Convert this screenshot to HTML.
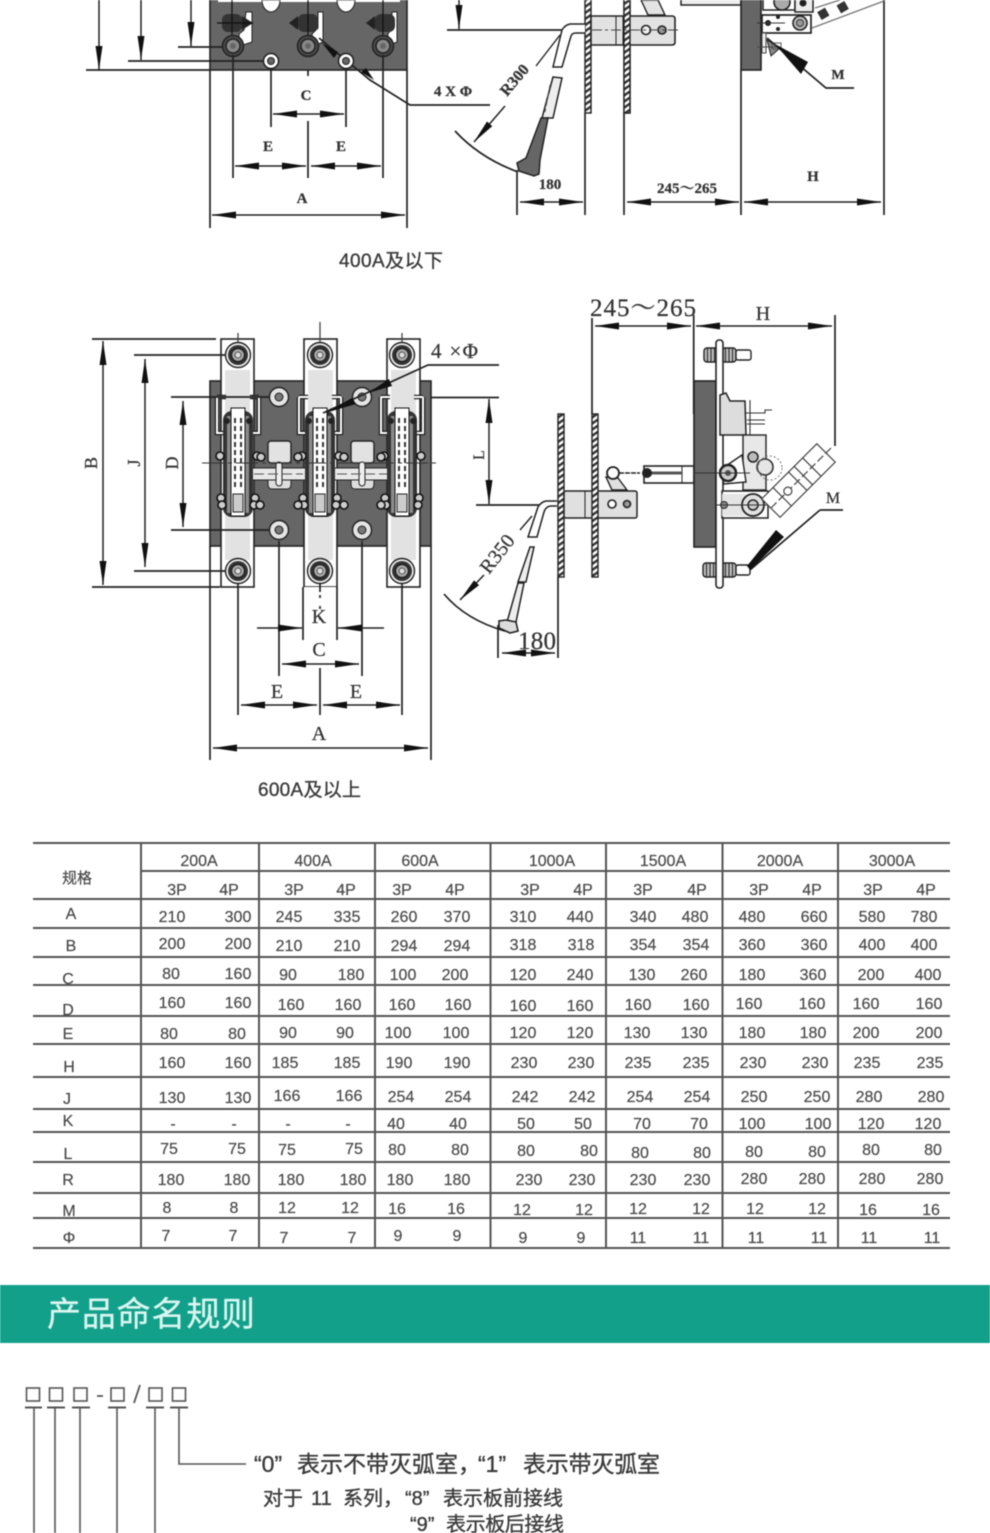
<!DOCTYPE html>
<html lang="zh"><head><meta charset="utf-8"><title>400A 600A</title>
<style>
html,body{margin:0;padding:0;background:#fff;width:990px;height:1533px;overflow:hidden}
svg{display:block;filter:blur(.55px)}
.s{font-family:"Liberation Serif","Noto Serif CJK SC",serif;fill:#333;stroke:#333;stroke-width:.25}
.t{font-family:"Liberation Sans","Noto Sans CJK SC",sans-serif;fill:#4a4a4a;stroke:#4a4a4a;stroke-width:.2;font-size:16px;text-anchor:middle}
.h{font-family:"Liberation Sans","Noto Sans CJK SC",sans-serif;fill:#4a4a4a;stroke:#4a4a4a;stroke-width:.2;font-size:16px;text-anchor:middle}
.z{font-family:"Liberation Sans","Noto Sans CJK SC",sans-serif;fill:#3a3a3a;stroke:#3a3a3a;stroke-width:.35}
.d{stroke:#222;stroke-width:1.7;fill:none}
.a{stroke:#222;stroke-width:1.5;fill:none;marker-start:url(#ar);marker-end:url(#ar)}
.e{stroke:#222;stroke-width:1.5;fill:none;marker-end:url(#ar)}
.g{stroke:#555;stroke-width:2;fill:none}
.tv{stroke:#555;stroke-width:2;fill:none}
</style></head><body>
<svg width="990" height="1533" viewBox="0 0 990 1533" xmlns="http://www.w3.org/2000/svg">
<defs>
<marker id="ar" viewBox="0 0 24 8" refX="24" refY="4" markerWidth="24" markerHeight="8" markerUnits="userSpaceOnUse" orient="auto-start-reverse"><path d="M0,.5 L24,4 L0,7.5 Z" fill="#111"/></marker>
<pattern id="hat" width="5" height="5" patternUnits="userSpaceOnUse" patternTransform="rotate(-35)"><rect width="5" height="5" fill="#fff"/><rect width="5" height="2.4" fill="#333"/></pattern>
<g id="hole1"><circle r="7.5" fill="#fff" stroke="#222" stroke-width="1.5"/><circle r="3.5" fill="#666" stroke="#222"/></g>
<g id="hex"><circle r="10.5" fill="#4a4a4a" stroke="#222" stroke-width="1.5"/><circle r="7" fill="#888" stroke="#222" stroke-width="1.5"/><circle r="3" fill="#666"/></g>
<g id="bolt2"><circle r="12.5" fill="#eee" stroke="#222" stroke-width="1.4"/><circle r="10" fill="#333"/><circle r="6.5" fill="#aaa" stroke="#222" stroke-width="1.4"/><circle r="3" fill="#ddd" stroke="#333" stroke-width=".8"/></g>
<g id="hole2"><circle r="9.5" fill="#e4e4e4" stroke="#222" stroke-width="1.4"/><circle r="4" fill="#777" stroke="#222"/></g>
<g id="sm"><circle r="4" fill="#ccc" stroke="#111" stroke-width="1.6"/></g>
<g id="ct">
<path d="M-21,397V433H-12M21,397V433H12M-21,397H-12M21,397H12" stroke="#222" stroke-width="4.5" fill="none"/>
<path d="M-21,397V433H-12M21,397V433H12M-21,397H-12M21,397H12" stroke="#fff" stroke-width="2" fill="none"/>
<rect x="-15" y="411" width="30" height="106" rx="9" fill="#333"/>
<rect x="-11" y="416" width="22" height="97" fill="#8a8a8a"/>
<rect x="-7" y="408" width="14" height="108" fill="#fff" stroke="#111"/>
<path d="M-3,418V490M3,418V490" stroke="#333" stroke-width="2" stroke-dasharray="5 3"/>
<rect x="-5" y="494" width="10" height="18" fill="#ccc" stroke="#222"/>
<circle cx="-11" cy="421" r="3" fill="#222"/><circle cx="11" cy="421" r="3" fill="#222"/>
<use href="#sm" x="-18" y="456"/><use href="#sm" x="19" y="456"/>
<use href="#sm" x="-17" y="498"/><use href="#sm" x="17" y="498"/>
<use href="#sm" x="-16" y="505"/><use href="#sm" x="16" y="505"/>
</g>
<g id="rod"><rect x="-3" y="0" width="6" height="163" fill="url(#hat)" stroke="#222" stroke-width="1.4"/></g>
<g id="rib"><rect x="0" y="-7" width="14" height="14" rx="3" fill="#bbb" stroke="#222" stroke-width="1.4"/><path d="M3.500,-7V7M7,-7V7M10.500,-7V7" stroke="#222"/></g>
</defs>

<rect width="990" height="1533" fill="#fff"/>

<!-- ===== top-left drawing ===== -->
<rect x="210" y="-4" width="197" height="74" fill="#666" stroke="#222" stroke-width="1.6"/>
<path d="M218,0H262M280,0H337M355,0H400" stroke="#fff" stroke-width="4"/>
<path d="M262,0a9,12 0 0 0 18,0zM337,0a9,12 0 0 0 18,0z" fill="#fff" stroke="#222"/>
<g><path d="M239,34L244,30L246,12H252V42L240,46Z" fill="#fff" stroke="#222"/><rect x="222" y="14" width="20" height="18" rx="6" fill="#333"/><path d="M242,16L253,23L242,30Z" fill="#222"/><path d="M217,23H253M232,0V36" stroke="#111" stroke-width="1.2"/></g>
<g><path d="M312,34L318,28V12H323V42L314,46Z" fill="#fff" stroke="#222"/><rect x="298" y="14" width="20" height="18" rx="6" fill="#333"/><path d="M298,16L289,23L298,30Z" fill="#222"/><path d="M308,0V36" stroke="#111" stroke-width="1.2"/></g>
<g><path d="M388,34L392,28V12H397V42L388,46Z" fill="#fff" stroke="#222"/><rect x="375" y="14" width="20" height="18" rx="6" fill="#333"/><path d="M375,16L366,23L375,30Z" fill="#222"/><path d="M383,0V36" stroke="#111" stroke-width="1.2"/></g>
<use href="#hex" x="233" y="46"/><use href="#hex" x="308" y="46"/><use href="#hex" x="383" y="46"/>
<path d="M319,38L370,80L410,105H490" class="d"/>
<path d="M322,43L338,52L334,58Z" fill="#111"/><path d="M366,68L374,80L361,72Z" fill="#111"/>
<use href="#hole1" x="271" y="61"/><use href="#hole1" x="346" y="61"/>
<path d="M86,70H210M128,61H264M178,47H223" class="d"/>
<path d="M99,0V70" class="e"/><path d="M141,0V60" class="e"/><path d="M191,0V46" class="e"/>
<path d="M210,70V228M407,70V228M233,55V178M383,55V178M271,69V127M346,69V127M308,121V178M308,70V76" class="d"/>
<path d="M273,114H344" class="a"/><path d="M235,166H306" class="a"/><path d="M311,166H381" class="a"/><path d="M212,215H405" class="a"/>
<text x="306" y="100" class="s" font-size="15" font-weight="bold" text-anchor="middle">C</text>
<text x="268" y="151" class="s" font-size="15" font-weight="bold" text-anchor="middle">E</text>
<text x="341" y="151" class="s" font-size="15" font-weight="bold" text-anchor="middle">E</text>
<text x="302" y="203" class="s" font-size="15" font-weight="bold" text-anchor="middle">A</text>
<text x="453" y="96" class="s" font-size="15" font-weight="bold" text-anchor="middle">4 X Φ</text>
<text x="339" y="267" class="z" font-size="19" textLength="104">400A及以下</text>

<!-- top right drawing -->
<rect x="585" y="-4" width="6" height="117" fill="url(#hat)" stroke="#222" stroke-width="1.4"/>
<rect x="624" y="-4" width="6" height="117" fill="url(#hat)" stroke="#222" stroke-width="1.4"/>
<path d="M641,0L648,15H665L658,0Z" fill="#e3e3e3" stroke="#222" stroke-width="1.4"/>
<path d="M591,16H672q3,0 3,3V42q0,3 -3,3H591Z" fill="#e2e2e2" stroke="#222" stroke-width="1.6"/>
<path d="M616,16V45M623,16V45" stroke="#222"/>
<rect x="624" y="-4" width="6" height="117" fill="url(#hat)" stroke="#222" stroke-width="1.4"/>
<circle cx="646" cy="30" r="4.5" fill="#eee" stroke="#222" stroke-width="1.6"/><circle cx="662" cy="30" r="4" fill="#999" stroke="#222" stroke-width="1.6"/>
<path d="M592,30H680" stroke="#444" stroke-dasharray="10 3 3 3"/>
<path d="M447,30H563" class="d"/><path d="M459,0V29" class="e"/>
<path d="M585,24H570Q565,25 562,30L553,67H562L571,36Q572,33 576,33H585" fill="#fff" stroke="#222" stroke-width="1.5"/>
<path d="M553,77L562,78L553,118H542Z" fill="#eee" stroke="#222" stroke-width="1.5"/>
<path d="M550,85L545,112" stroke="#555" stroke-dasharray="5 3"/>
<path d="M541,118H548L540,160L539,174L534,176L519,171L517,163L526,158Z" fill="#666" stroke="#222" stroke-width="1.5"/>
<path d="M455,131Q480,158 518,172" stroke="#222" stroke-width="1.7" fill="none"/>
<path d="M505,106L474,142" class="e" stroke-width="1.5"/><path d="M536,66L560,35" stroke="#222" stroke-width="1.4"/>
<text transform="translate(507,97) rotate(-50)" class="s" font-size="16" font-weight="bold">R300</text>
<path d="M517,170V215M585,113V215M624,113V215M741,70V215M884,0V215" class="d"/>
<path d="M520,202H583" class="a"/><path d="M627,202H739" class="a"/><path d="M744,202H881" class="a"/>
<text x="550" y="189" class="s" font-size="15" font-weight="bold" text-anchor="middle">180</text>
<text x="687" y="193" class="s" font-size="15" font-weight="bold" text-anchor="middle">245～265</text>
<text x="813" y="181" class="s" font-size="15" font-weight="bold" text-anchor="middle">H</text>
<rect x="681" y="-3" width="60" height="8" fill="#eee" stroke="#222" stroke-width="1.5"/>
<rect x="741" y="-4" width="20" height="74" fill="#666" stroke="#222" stroke-width="1.6"/>
<path d="M812,28L884,1M815,8L840,0" stroke="#777" stroke-width="1.3"/>
<rect x="819" y="9" width="9" height="9" transform="rotate(-30 824 14)" fill="#333"/><rect x="838" y="3" width="9" height="9" transform="rotate(-30 842 7)" fill="#333"/>
<rect x="763" y="-3" width="32" height="13" fill="#fff" stroke="#222" stroke-width="1.5"/><circle cx="782" cy="2" r="8" fill="#aaa" stroke="#222" stroke-width="1.6"/>
<rect x="795" y="-3" width="18" height="15" fill="#eee" stroke="#222" stroke-width="1.5"/><circle cx="803" cy="3" r="3.5" fill="#222"/>
<rect x="762" y="15" width="49" height="18" fill="#fff" stroke="#222" stroke-width="1.7"/>
<circle cx="800" cy="23" r="7" fill="#bbb" stroke="#222" stroke-width="1.6"/><circle cx="800" cy="23" r="3.5" fill="#999" stroke="#333"/>
<circle cx="778" cy="17" r="2" fill="#222"/><circle cx="778" cy="29" r="2" fill="#222"/><circle cx="768" cy="23" r="3" fill="#222"/>
<path d="M757,23H785" stroke="#333"/>
<rect x="762" y="33" width="4" height="20" fill="#eee" stroke="#444"/>
<path d="M767,40L771,56L780,48Z" fill="#888" stroke="#222"/><rect x="772" y="43" width="9" height="6" fill="none" stroke="#555"/>
<path d="M757,47H780" stroke="#444"/>
<path d="M767,38L826,88H854" class="d"/><path d="M775,44L808,62L801,74Z" fill="#111"/>
<text x="838" y="79" class="s" font-size="14" font-weight="bold" text-anchor="middle">M</text>

<!-- ===== middle-left drawing ===== -->
<rect x="210" y="381" width="221" height="165" fill="#666" stroke="#222" stroke-width="1.6"/>
<rect x="221" y="339" width="33" height="248" fill="#fff" stroke="#222" stroke-width="1.6"/>
<rect x="304" y="339" width="33" height="248" fill="#fff" stroke="#222" stroke-width="1.6"/>
<rect x="387" y="339" width="33" height="248" fill="#fff" stroke="#222" stroke-width="1.6"/>
<rect x="225" y="370" width="25" height="190" fill="#e2e2e2"/><rect x="308" y="370" width="25" height="190" fill="#e2e2e2"/><rect x="391" y="370" width="25" height="190" fill="#e2e2e2"/>
<rect x="304" y="587" width="33" height="44" fill="#fff"/>
<path d="M320,595V628" stroke="#444" stroke-width="2" stroke-dasharray="3 8"/>
<rect x="268" y="441" width="23" height="22" rx="3" fill="#e2e2e2" stroke="#222" stroke-width="1.4"/>
<rect x="351" y="441" width="23" height="22" rx="3" fill="#e2e2e2" stroke="#222" stroke-width="1.4"/>
<path d="M268,480V484Q268,489 272,489H287Q291,489 291,484V480M351,480V484Q351,489 355,489H370Q374,489 374,484V480" fill="#ddd" stroke="#222"/>
<rect x="250" y="468" width="56" height="12" fill="#e8e8e8" stroke="#222"/><rect x="334" y="468" width="56" height="12" fill="#e8e8e8" stroke="#222"/>
<rect x="276" y="462" width="6" height="24" rx="3" fill="#eee" stroke="#222"/><rect x="359" y="462" width="6" height="24" rx="3" fill="#eee" stroke="#222"/>
<path d="M254,474H303M337,474H387" stroke="#555" stroke-dasharray="10 4"/>
<use href="#ct" x="238"/><use href="#ct" x="320"/><use href="#ct" x="402"/>
<use href="#sm" x="261" y="457"/><use href="#sm" x="298" y="457"/><use href="#sm" x="344" y="457"/><use href="#sm" x="381" y="457"/>
<use href="#sm" x="260" y="505"/><use href="#sm" x="298" y="505"/><use href="#sm" x="381" y="505"/><use href="#sm" x="344" y="505"/>
<path d="M202,463H440" stroke="#333" stroke-width="1.1" stroke-dasharray="22 4 4 4"/>
<path d="M238,333V349M320,322V345M402,333V349" stroke="#444" stroke-width="1.3"/>
<use href="#bolt2" x="238" y="355"/><use href="#bolt2" x="320" y="355"/><use href="#bolt2" x="402" y="355"/>
<use href="#bolt2" x="238" y="571"/><use href="#bolt2" x="320" y="571"/><use href="#bolt2" x="402" y="571"/>
<use href="#hole2" x="279" y="397"/><use href="#hole2" x="362" y="397"/><use href="#hole2" x="279" y="530"/><use href="#hole2" x="362" y="530"/>
<path d="M92,339H216M92,587H220M134,355H226M134,571H226M171,397H270M171,530H270" class="d"/>
<path d="M103,341V585" class="a"/><path d="M145,359V567" class="a"/><path d="M183,401V527" class="a"/>
<text transform="translate(97,463) rotate(-90)" class="s" font-size="18" text-anchor="middle">B</text>
<text transform="translate(140,463) rotate(-90)" class="s" font-size="18" text-anchor="middle">J</text>
<text transform="translate(178,463) rotate(-90)" class="s" font-size="18" text-anchor="middle">D</text>
<path d="M210,546V760M431,546V760M279,541V676M362,541V676M238,584V715M402,584V715M320,584V592M320,668V715M303,587V640M337,587V640" class="d"/>
<path d="M282,664H359" class="a"/><path d="M241,705H317" class="a"/><path d="M323,705H400" class="a"/><path d="M213,748H428" class="a"/>
<path d="M257,628H302" class="e"/><path d="M384,628H338" class="e"/>
<text x="319" y="623" class="s" font-size="20" text-anchor="middle">K</text>
<text x="319" y="656" class="s" font-size="20" text-anchor="middle">C</text>
<text x="277" y="698" class="s" font-size="20" text-anchor="middle">E</text>
<text x="356" y="698" class="s" font-size="20" text-anchor="middle">E</text>
<text x="319" y="740" class="s" font-size="20" text-anchor="middle">A</text>
<text x="431" y="358" class="s" font-size="21" textLength="47">4 ×Φ</text>
<path d="M323,413L428,365H499M431,397.500H499" class="d"/>
<path d="M325,413L352,398L356,404ZM368,393L389,379L392,386Z" fill="#111"/>
<path d="M476,505H556" class="d"/><path d="M489,399V504" class="a"/>
<text transform="translate(484,455) rotate(-90)" class="s" font-size="16" text-anchor="middle">L</text>
<text x="258" y="796" class="z" font-size="19" textLength="103">600A及以上</text>

<!-- middle right -->
<use href="#rod" x="561" y="414"/>
<rect x="564" y="491" width="73" height="27" rx="2" fill="#e0e0e0" stroke="#222" stroke-width="1.5"/>
<use href="#rod" x="595" y="414"/>
<path d="M585,491V518" stroke="#222"/>
<circle cx="612" cy="504" r="4" fill="#fff" stroke="#222" stroke-width="1.6"/><circle cx="627" cy="504" r="3.5" fill="#999" stroke="#222" stroke-width="1.6"/>
<path d="M606,477L618,478L627,490H612Z" fill="#e0e0e0" stroke="#222" stroke-width="1.4"/>
<circle cx="613" cy="473" r="6" fill="#fff" stroke="#222" stroke-width="1.8"/>
<path d="M619,473H640" stroke="#222" stroke-width="1.4" stroke-dasharray="5 1"/>
<rect x="644" y="466" width="50" height="17" fill="#fff" stroke="#222" stroke-width="1.6"/>
<path d="M682,466V483" stroke="#222"/><path d="M646,473H682" stroke="#555" stroke-width="3"/><circle cx="647" cy="473" r="5" fill="#222"/>
<path d="M557,501H546Q541,502 538,507L528,537H537L544,512Q546,506 551,506H557" fill="#fff" stroke="#222" stroke-width="1.5"/>
<path d="M530,547L534,547L526,582H518Z" fill="#eee" stroke="#222" stroke-width="1.5"/>
<path d="M518,583H524L516,622H507Z" fill="#eee" stroke="#222" stroke-width="1.5"/>
<path d="M506,620L516,622L518,631L510,633L499,628L499,621Z" fill="#ddd" stroke="#222" stroke-width="1.6"/>
<path d="M444,594Q466,620 505,631" stroke="#222" stroke-width="1.7" fill="none"/>
<path d="M484,575L460,600" class="e"/><path d="M520,530L532,516" stroke="#222" stroke-width="1.4"/>
<text transform="translate(489,575) rotate(-52)" class="s" font-size="20">R350</text>
<path d="M498,625V658M558,577V658M592,318V414M693.700,315V414M835,315V446" class="d"/>
<path d="M502,653H555" class="a"/><path d="M595,326H691" class="a"/><path d="M696,326H832" class="a"/>
<text x="537" y="649" class="s" font-size="25" text-anchor="middle" textLength="38">180</text>
<text x="643" y="316" class="s" font-size="25" text-anchor="middle" textLength="106">245～265</text>
<text x="763" y="320" class="s" font-size="20" text-anchor="middle">H</text>
<rect x="694" y="381" width="22" height="166" fill="#666" stroke="#222" stroke-width="1.6"/>
<use href="#rib" x="704" y="355"/><use href="#rib" x="722" y="355"/><rect x="736" y="350" width="15" height="10" rx="2" fill="#fff" stroke="#222" stroke-width="1.4"/>
<use href="#rib" x="703" y="570"/><use href="#rib" x="722" y="570"/><rect x="736" y="565" width="14" height="10" rx="2" fill="#fff" stroke="#222" stroke-width="1.4"/>
<rect x="716" y="340" width="7" height="248" rx="3" fill="#fff" stroke="#222" stroke-width="1.6"/>
<path d="M720,395L726,393L730,401L745,401L746,435L720,435Z" fill="#ddd" stroke="#222" stroke-width="1.5"/>
<path d="M746,413H765V410H772M750,400V435M747,420H765M747,424H765" stroke="#333" stroke-width="1.1" fill="none"/>
<rect x="743" y="435" width="23" height="55" fill="#e8e8e8" stroke="#222" stroke-width="1.4"/>
<path d="M723,435V490" stroke="#222"/>
<path d="M720,470L742,455L746,482L724,484Z" fill="#fff" stroke="#222" stroke-width="1.4"/>
<circle cx="728" cy="473" r="8" fill="#ccc" stroke="#222" stroke-width="2.5"/><circle cx="728" cy="473" r="3" fill="#555"/>
<circle cx="753" cy="457" r="5" fill="#bbb" stroke="#222" stroke-width="1.5"/><circle cx="765" cy="467" r="8" fill="#e5e5e5" stroke="#333" stroke-width="1.6"/>
<circle cx="770" cy="468" r="12" fill="none" stroke="#777" stroke-dasharray="2 2"/>
<rect x="722" y="491" width="46" height="27" fill="#fff" stroke="#222" stroke-width="1.5"/>
<rect x="722" y="494" width="24" height="22" fill="#e4e4e4"/>
<circle cx="753" cy="505" r="11" fill="#e2e2e2" stroke="#222" stroke-width="1.8"/><circle cx="753" cy="505" r="5" fill="#ccc" stroke="#222" stroke-width="1.5"/>
<circle cx="724" cy="505" r="3.500" fill="#888" stroke="#222"/>
<path d="M716,505H780M693,473H750" stroke="#333"/>
<g transform="translate(802,477) rotate(-45)" stroke="#444" stroke-width="1.2" fill="#fff">
<rect x="-44" y="-13" width="78" height="26"/><path d="M-28,-13V13M-6,-13V13M2,-13V13M14,-13V13" fill="none"/>
<path d="M-44,0H44" stroke-dasharray="8 3" fill="none"/><circle cx="-20" cy="0" r="4"/></g>
<path d="M820,510H843M820,510L750,570" class="d"/><path d="M784,537L776,530L747,566L750,570Z" fill="#111"/>
<text x="833" y="503" class="s" font-size="16" text-anchor="middle">M</text>

<!-- ===== table ===== -->
<path d="M33,843H950M141,871H950M33,899H950M33,928H950M33,957H950M33,985H950M33,1016H950M33,1044H950M33,1077H950M33,1109H950M33,1132H950M33,1162H950M33,1193H950M33,1218H950M33,1248H950" class="g"/>
<path d="M141,843V1248M259,843V1248M375,843V1248M490.500,843V1248M606,843V1248M722.500,843V1248M838,843V1248" class="tv"/>
<g class="h">
<text x="199" y="866">200A</text><text x="313" y="866">400A</text><text x="420" y="866">600A</text><text x="552" y="866">1000A</text><text x="663" y="866">1500A</text><text x="780" y="866">2000A</text><text x="892" y="866">3000A</text>
<text x="177" y="895">3P</text><text x="229" y="895">4P</text><text x="294" y="895">3P</text><text x="346" y="895">4P</text><text x="402" y="895">3P</text><text x="455" y="895">4P</text><text x="530" y="895">3P</text><text x="583" y="895">4P</text><text x="643" y="895">3P</text><text x="697" y="895">4P</text><text x="759" y="895">3P</text><text x="812" y="895">4P</text><text x="873" y="895">3P</text><text x="926" y="895">4P</text>
<text x="77" y="883" font-size="15">规格</text>
<text x="71" y="919">A</text><text x="71" y="951">B</text><text x="68" y="984">C</text><text x="68" y="1015">D</text><text x="68" y="1039">E</text><text x="69" y="1072">H</text><text x="67" y="1104">J</text><text x="68" y="1126">K</text><text x="68" y="1159">L</text><text x="68" y="1185">R</text><text x="69" y="1216">M</text><text x="69" y="1243">Φ</text>
</g>
<g class="t">
<text x="172" y="922">210</text><text x="238" y="922">300</text><text x="289" y="922">245</text><text x="347" y="922">335</text><text x="404" y="922">260</text><text x="457" y="922">370</text><text x="523" y="922">310</text><text x="580" y="922">440</text><text x="643" y="922">340</text><text x="695" y="922">480</text><text x="752" y="922">480</text><text x="814" y="922">660</text><text x="872" y="922">580</text><text x="924" y="922">780</text>
<text x="172" y="949">200</text><text x="238" y="949">200</text><text x="289" y="951">210</text><text x="347" y="951">210</text><text x="404" y="951">294</text><text x="457" y="951">294</text><text x="523" y="950">318</text><text x="581" y="950">318</text><text x="643" y="950">354</text><text x="696" y="950">354</text><text x="752" y="950">360</text><text x="814" y="950">360</text><text x="872" y="950">400</text><text x="924" y="950">400</text>
<text x="171" y="979">80</text><text x="238" y="979">160</text><text x="288" y="980">90</text><text x="351" y="980">180</text><text x="403" y="980">100</text><text x="455" y="980">200</text><text x="523" y="980">120</text><text x="580" y="980">240</text><text x="642" y="980">130</text><text x="694" y="980">260</text><text x="752" y="980">180</text><text x="813" y="980">360</text><text x="871" y="980">200</text><text x="928" y="980">400</text>
<text x="172" y="1008">160</text><text x="238" y="1008">160</text><text x="291" y="1010">160</text><text x="348" y="1010">160</text><text x="402" y="1010">160</text><text x="458" y="1010">160</text><text x="523" y="1011">160</text><text x="580" y="1011">160</text><text x="638" y="1010">160</text><text x="696" y="1010">160</text><text x="749" y="1009">160</text><text x="812" y="1009">160</text><text x="866" y="1009">160</text><text x="929" y="1009">160</text>
<text x="169" y="1039">80</text><text x="237" y="1039">80</text><text x="288" y="1038">90</text><text x="345" y="1038">90</text><text x="398" y="1038">100</text><text x="456" y="1038">100</text><text x="523" y="1038">120</text><text x="580" y="1038">120</text><text x="637" y="1038">130</text><text x="694" y="1038">130</text><text x="752" y="1038">180</text><text x="813" y="1038">180</text><text x="866" y="1038">200</text><text x="929" y="1038">200</text>
<text x="172" y="1068">160</text><text x="238" y="1068">160</text><text x="285" y="1068">185</text><text x="347" y="1068">185</text><text x="399" y="1068">190</text><text x="457" y="1068">190</text><text x="524" y="1068">230</text><text x="581" y="1068">230</text><text x="638" y="1068">235</text><text x="696" y="1068">235</text><text x="753" y="1068">230</text><text x="815" y="1068">230</text><text x="867" y="1068">235</text><text x="930" y="1068">235</text>
<text x="172" y="1103">130</text><text x="238" y="1103">130</text><text x="287" y="1101">166</text><text x="349" y="1101">166</text><text x="401" y="1102">254</text><text x="458" y="1102">254</text><text x="525" y="1102">242</text><text x="582" y="1102">242</text><text x="640" y="1102">254</text><text x="697" y="1102">254</text><text x="754" y="1102">250</text><text x="817" y="1102">250</text><text x="869" y="1102">280</text><text x="931" y="1102">280</text>
<text x="173" y="1129">-</text><text x="234" y="1129">-</text><text x="288" y="1129">-</text><text x="348" y="1129">-</text><text x="396" y="1129">40</text><text x="458" y="1129">40</text><text x="526" y="1129">50</text><text x="583" y="1129">50</text><text x="642" y="1129">70</text><text x="699" y="1129">70</text><text x="752" y="1129">100</text><text x="818" y="1129">100</text><text x="871" y="1129">120</text><text x="928" y="1129">120</text>
<text x="169" y="1154">75</text><text x="237" y="1154">75</text><text x="287" y="1155">75</text><text x="354" y="1154">75</text><text x="397" y="1155">80</text><text x="460" y="1155">80</text><text x="526" y="1156">80</text><text x="589" y="1156">80</text><text x="640" y="1158">80</text><text x="702" y="1158">80</text><text x="754" y="1157">80</text><text x="817" y="1157">80</text><text x="871" y="1155">80</text><text x="933" y="1155">80</text>
<text x="171" y="1185">180</text><text x="237" y="1185">180</text><text x="291" y="1185">180</text><text x="353" y="1185">180</text><text x="400" y="1185">180</text><text x="457" y="1185">180</text><text x="529" y="1185">230</text><text x="582" y="1185">230</text><text x="643" y="1185">230</text><text x="697" y="1185">230</text><text x="754" y="1184">280</text><text x="812" y="1184">280</text><text x="872" y="1184">280</text><text x="930" y="1184">280</text>
<text x="167" y="1213">8</text><text x="234" y="1213">8</text><text x="287" y="1213">12</text><text x="350" y="1213">12</text><text x="397" y="1214">16</text><text x="456" y="1214">16</text><text x="522" y="1215">12</text><text x="584" y="1215">12</text><text x="638" y="1214">12</text><text x="701" y="1214">12</text><text x="755" y="1214">12</text><text x="817" y="1214">12</text><text x="868" y="1215">16</text><text x="931" y="1215">16</text>
<text x="166" y="1241">7</text><text x="233" y="1241">7</text><text x="284" y="1243">7</text><text x="352" y="1243">7</text><text x="398" y="1241">9</text><text x="457" y="1241">9</text><text x="523" y="1243">9</text><text x="581" y="1243">9</text><text x="638" y="1243">11</text><text x="701" y="1243">11</text><text x="756" y="1243">11</text><text x="819" y="1243">11</text><text x="869" y="1243">11</text><text x="932" y="1243">11</text>
</g>

<!-- ===== band ===== -->
<rect x="0" y="1285" width="990" height="58" fill="#13a08b"/>
<text x="47" y="1326" font-family="'Noto Sans CJK SC','WenQuanYi Zen Hei',sans-serif" font-size="34" fill="#d9f6f0" stroke="#d9f6f0" stroke-width=".3" textLength="208">产品命名规则</text>

<!-- ===== naming ===== -->
<g fill="none" stroke="#555" stroke-width="1.6">
<rect x="26.500" y="1388" width="13" height="13"/><rect x="49.500" y="1388" width="13" height="13"/><rect x="74" y="1388" width="13" height="13"/><rect x="111" y="1388" width="13" height="13"/><rect x="149" y="1388" width="13" height="13"/><rect x="172.500" y="1388" width="13" height="13"/>
<path d="M25,1407.500H42M47,1407.500H65M72,1407.500H90M108,1407.500H126M146,1407.500H164M170,1407.500H188" stroke-width="2"/>
<path d="M34,1408V1533M55,1408V1533M80,1408V1533M117,1408V1533M155,1408V1533M179,1408V1464H246"/>
<path d="M97,1396H103M134,1403L140,1385" stroke-width="1.8"/>
</g>
<g class="z" font-size="23">
<text x="254" y="1472">“0”</text><text x="297" y="1472">表示不带灭弧室，</text><text x="478" y="1472">“1”</text><text x="523" y="1472" textLength="137">表示带灭弧室</text>
</g>
<g class="z" font-size="20">
<text x="263" y="1505">对于</text><text x="311" y="1505">11</text><text x="343" y="1505">系列，</text><text x="405" y="1505">“8”</text><text x="443" y="1505">表示板前接线</text>
<text x="410" y="1531">“9”</text><text x="446" y="1531" textLength="118">表示板后接线</text>
</g>
</svg>
</body></html>
